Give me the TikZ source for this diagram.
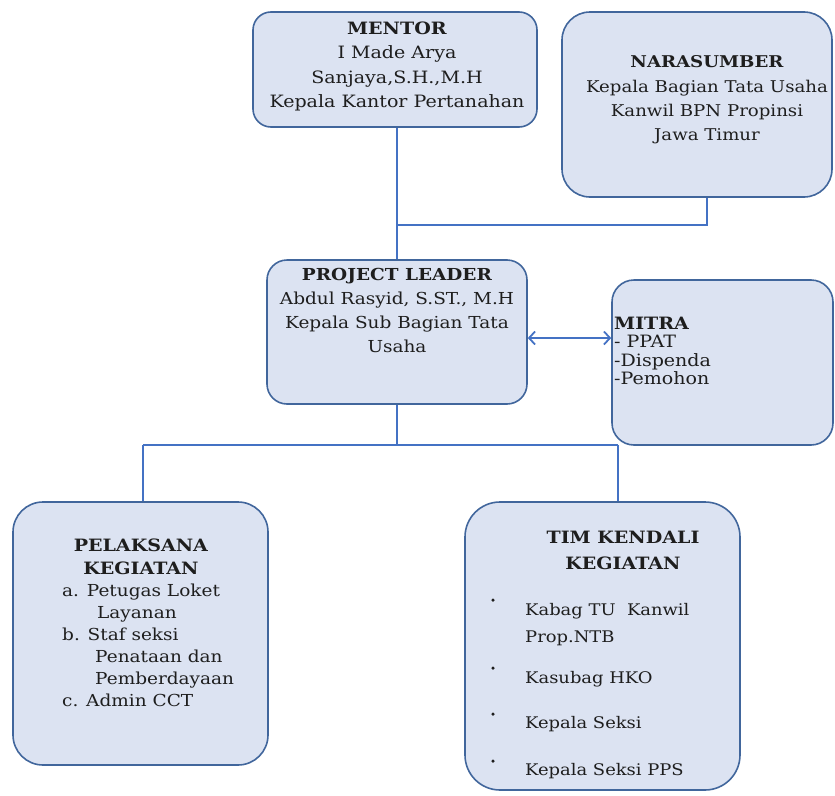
\documentclass[tikz,border=0pt]{standalone}
\usepackage{fontspec}
\setmainfont{DejaVu Serif}[FakeStretch=1.12]
\usetikzlibrary{arrows.meta}
\definecolor{boxfill}{HTML}{DCE3F2}
\definecolor{boxline}{HTML}{41669C}
\definecolor{conn}{HTML}{4472C4}
\definecolor{txt}{HTML}{1E1E1E}
\tikzset{
  orgbox/.style={draw=boxline, line width=1.6pt, fill=boxfill, inner sep=0pt},
  conline/.style={draw=conn, line width=1.8pt},
  body/.style={text=txt, inner sep=0pt, font=\fontsize{17}{24}\selectfont},
  bul/.style={circle, fill=txt, inner sep=0pt, minimum size=3.5pt}
}
\begin{document}
\begin{tikzpicture}[x=1pt,y=-1pt]
\useasboundingbox (0,0) rectangle (835,795);
% boxes
\node[orgbox, rounded corners=18pt, minimum width=284pt, minimum height=115pt] (mentor) at (395,69.5) {};
\node[orgbox, rounded corners=28pt, minimum width=270pt, minimum height=185pt] (nara) at (697,104.5) {};
\node[orgbox, rounded corners=20pt, minimum width=260pt, minimum height=144pt] (pl) at (397,332) {};
\node[orgbox, rounded corners=22pt, minimum width=221pt, minimum height=165pt] (mitra) at (722.5,362.5) {};
\node[orgbox, rounded corners=30pt, minimum width=255pt, minimum height=263pt] (pel) at (140.5,633.5) {};
\node[orgbox, rounded corners=35pt, minimum width=275pt, minimum height=288pt] (tim) at (602.5,646) {};
% texts
\node[body, align=center, anchor=north, font=\fontsize{17}{24.5}\selectfont] (mentort) at (397,21.5) {\textbf{MENTOR}\\I Made Arya\\Sanjaya,S.H.,M.H\\Kepala Kantor Pertanahan};
\node[body, align=center, anchor=north, font=\fontsize{16.2}{24.3}\selectfont] (narat) at (707,55.5) {\textbf{NARASUMBER}\\Kepala Bagian Tata Usaha\\Kanwil BPN Propinsi\\Jawa Timur};
\node[body, align=center, anchor=north, font=\fontsize{16.5}{23.7}\selectfont] (plt) at (397,268.5) {\textbf{PROJECT LEADER}\\Abdul Rasyid, S.ST., M.H\\Kepala Sub Bagian Tata\\Usaha};
\node[body, align=left, anchor=north west, font=\fontsize{17}{18.5}\selectfont] (mitrat) at (614,316.5) {\textbf{MITRA}\\- PPAT\\-Dispenda\\-Pemohon};
\node[body, align=center, anchor=north, font=\fontsize{17}{23}\selectfont] (pelh) at (141,538.5) {\textbf{PELAKSANA}\\\textbf{KEGIATAN}};
\node[body, align=left, anchor=north west, font=\fontsize{16.5}{22}\selectfont] (pelt) at (62,583.5) {a. Petugas Loket\\\hspace*{35pt}Layanan\\b. Staf seksi\\\hspace*{33pt}Penataan dan\\\hspace*{33pt}Pemberdayaan\\c. Admin CCT};
\node[body, align=center, anchor=north, font=\fontsize{17}{26}\selectfont] (timh) at (623,530.5) {\textbf{TIM KENDALI}\\\textbf{KEGIATAN}};
\node[body, align=left, anchor=north west, font=\fontsize{16}{27}\selectfont] (tim1) at (525,603) {Kabag TU\ \ Kanwil\\Prop.NTB};
\node[body, anchor=north west, font=\fontsize{16}{24}\selectfont] (tim2) at (525,671) {Kasubag HKO};
\node[body, anchor=north west, font=\fontsize{16}{24}\selectfont] (tim3) at (525,716) {Kepala Seksi};
\node[body, anchor=north west, font=\fontsize{16}{24}\selectfont] (tim4) at (525,763) {Kepala Seksi PPS};
\node[bul] (b1) at (493,600) {};
\node[bul] (b2) at (493,668) {};
\node[bul] (b3) at (493,714) {};
\node[bul] (b4) at (493,761) {};
% connectors
\coordinate (j1) at (pl.north |- 0,225);
\coordinate (j2) at (pl.south |- 0,445);
\coordinate (jl) at (143,445);
\coordinate (jr) at (618,445);
\draw[conline] (pl.north |- mentor.south) -- (pl.north);
\draw[conline] (nara.south -| 707,0) -- (707,225) -- (j1);
\draw[conline] (pl.south) -- (j2);
\draw[conline] (jl) -- (jr);
\draw[conline] (jl) -- (jl |- pel.north);
\draw[conline] (jr) -- (jr |- tim.north);
\draw[conline, {Straight Barb[length=6pt,width=13pt,line width=1.8pt]}-{Straight Barb[length=6pt,width=13pt,line width=1.8pt]}] (pl.east |- 0,338) -- (mitra.west |- 0,338);
\end{tikzpicture}
\end{document}
